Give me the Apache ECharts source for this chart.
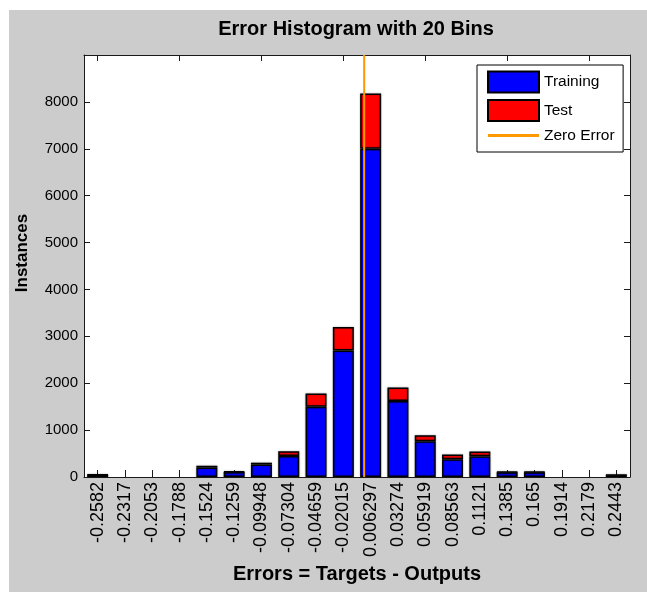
<!DOCTYPE html>
<html><head><meta charset="utf-8">
<script src="https://cdn.jsdelivr.net/npm/echarts@6/dist/echarts.min.js"></script>
<style>
html,body{margin:0;padding:0;background:#fff;}
#wrap{position:relative;width:647px;height:592px;background:#fff;}
#bg{position:absolute;left:9px;top:10px;width:638px;height:582px;background:#CCCCCC;}
#c{position:absolute;left:0;top:0;width:647px;height:592px;}
</style>
</head><body>
<div id="wrap"><div id="bg"></div><div id="c"></div></div>
<script>
// Bin centers (tick labels) of the error histogram
const binLabels = ["-0.2582","-0.2317","-0.2053","-0.1788","-0.1524","-0.1259","-0.09948","-0.07304","-0.04659","-0.02015","0.006297","0.03274","0.05919","0.08563","0.1121","0.1385","0.165","0.1914","0.2179","0.2443"];
// Instances per bin
const training = [45,0,0,0,200,105,265,450,1500,2700,7000,1620,760,380,440,100,100,0,0,40];
const test     = [5,0,0,0,40,12,40,100,280,500,1180,290,130,100,105,10,10,0,0,3];
// Y axis
const yMin = 0, yMax = 9000, yStep = 1000;

const font = "'Liberation Sans', Arial, Helvetica, sans-serif";
const centers = binLabels.map(Number);
const step = (centers[centers.length-1] - centers[0]) / (centers.length - 1);
const zeroIdx = (0 - centers[0]) / step;
const hideZero = v => (v === 0 ? null : v);

const chart = echarts.init(document.getElementById('c'), null, {renderer:'canvas'});
const axisLineStyle = {color:'#1a1a1a', width:1};
chart.setOption({
  backgroundColor:'transparent',
  animation:false,
  textStyle:{fontFamily:font},
  title:{
    text:'Error Histogram with 20 Bins',
    left:356, top:19, padding:0, textAlign:'center',
    textStyle:{fontFamily:font, fontSize:20, fontWeight:'bold', color:'#000'}
  },
  legend:{
    orient:'vertical', left:477, top:65,
    padding:[5.5,8.5,8.5,10],
    itemWidth:51, itemHeight:21, itemGap:5.5,
    backgroundColor:'#fff', borderColor:'#000', borderWidth:1,
    selectedMode:false,
    textStyle:{fontFamily:font, fontSize:15.5, color:'#000'},
    data:[
      {name:'Training', icon:'rect'},
      {name:'Test', icon:'rect'},
      {name:'Zero Error', icon:'path://M0,0 L51,0 L51,3 L0,3 Z'}
    ]
  },
  grid:{left:84, top:55, right:17, bottom:115, show:true, backgroundColor:'#fff', borderWidth:0},
  xAxis:[
    {
      type:'category', data:binLabels, position:'bottom',
      axisLine:{show:true, onZero:false, lineStyle:axisLineStyle},
      axisTick:{show:true, inside:true, alignWithLabel:true, length:7, lineStyle:axisLineStyle},
      axisLabel:{rotate:90, margin:5, fontSize:18, color:'#000', fontFamily:font, interval:0},
      name:'Errors = Targets - Outputs', nameLocation:'middle', nameGap:84,
      nameTextStyle:{fontFamily:font, fontSize:20, fontWeight:'bold', color:'#000'},
      splitLine:{show:false}
    },
    {
      type:'category', data:binLabels, position:'top',
      axisLine:{show:true, onZero:false, lineStyle:axisLineStyle},
      axisTick:{show:true, inside:true, alignWithLabel:true, length:6, lineStyle:axisLineStyle},
      axisLabel:{show:false}, splitLine:{show:false}
    },
    {
      type:'value', min:-0.5, max:binLabels.length-0.5, show:false,
      axisLine:{onZero:false}, splitLine:{show:false}
    }
  ],
  yAxis:[
    {
      type:'value', min:yMin, max:yMax, interval:yStep, position:'left',
      axisLine:{show:true, onZero:false, lineStyle:axisLineStyle},
      axisTick:{show:true, inside:true, length:6, lineStyle:axisLineStyle},
      axisLabel:{fontSize:15, color:'#000', fontFamily:font, margin:6, showMaxLabel:false,
        formatter:v => String(v)},
      splitLine:{show:false},
      name:'Instances', nameLocation:'middle', nameGap:53,
      nameTextStyle:{fontFamily:font, fontSize:17, fontWeight:'bold', color:'#000', padding:[0,0,0,26]}
    },
    {
      type:'value', min:yMin, max:yMax, interval:yStep, position:'right',
      axisLine:{show:true, onZero:false, lineStyle:axisLineStyle},
      axisTick:{show:true, inside:true, length:6, lineStyle:axisLineStyle},
      axisLabel:{show:false}, splitLine:{show:false}
    }
  ],
  series:[
    {
      name:'Training', type:'bar', stack:'h', data:training.map(hideZero), barWidth:21,
      xAxisIndex:0, yAxisIndex:0,
      itemStyle:{color:'#0000FF', borderColor:'#000', borderWidth:1.5,
        shadowColor:'rgba(0,0,0,0.3)', shadowBlur:2}
    },
    {
      name:'Test', type:'bar', stack:'h', data:test.map(hideZero), barWidth:21,
      xAxisIndex:0, yAxisIndex:0,
      itemStyle:{color:'#FF0000', borderColor:'#000', borderWidth:1.5,
        shadowColor:'rgba(0,0,0,0.3)', shadowBlur:2}
    },
    {
      name:'Zero Error', type:'line', xAxisIndex:2, yAxisIndex:0,
      data:[[zeroIdx, yMin],[zeroIdx, yMax]],
      symbol:'none', z:10,
      lineStyle:{color:'#FF9900', width:2},
      itemStyle:{color:'#FF9900'}
    }
  ]
});
</script>
</body></html>
